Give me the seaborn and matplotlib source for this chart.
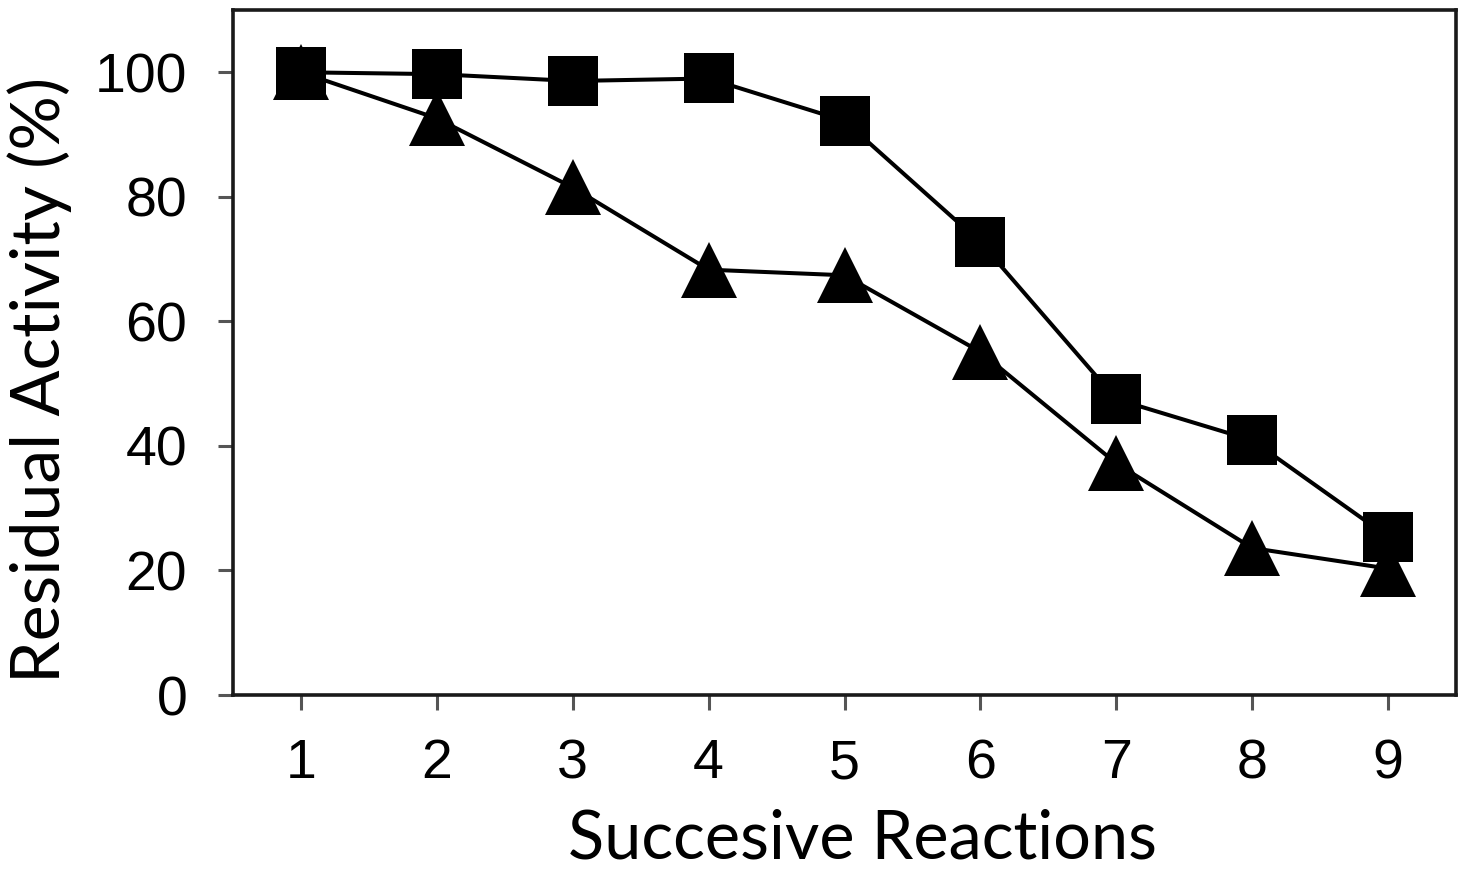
import matplotlib
matplotlib.use("Agg")
import matplotlib.pyplot as plt
import seaborn as sns
import pandas as pd

reactions = [1, 2, 3, 4, 5, 6, 7, 8, 9]
squares = [100, 99.7, 98.6, 99.0, 92.2, 72.7, 47.5, 40.9, 25.4]
triangles = [100, 92.6, 81.5, 68.3, 67.4, 55.1, 37.2, 23.6, 20.3]
y_ticks = [0, 20, 40, 60, 80, 100]

sns.set_theme(style="ticks")
plt.rcParams['font.family'] = ['Liberation Sans', 'DejaVu Sans']
plt.rcParams['text.color'] = 'black'
plt.rcParams['xtick.labelcolor'] = 'black'
plt.rcParams['ytick.labelcolor'] = 'black'
plt.rcParams['axes.labelcolor'] = 'black'

fig = plt.figure(figsize=(14.66, 8.8), dpi=100)
ax = fig.add_axes([233/1466, 1 - 695/880, (1456 - 233)/1466, (695 - 10)/880])

df_t = pd.DataFrame({"x": reactions, "y": triangles})
df_s = pd.DataFrame({"x": reactions, "y": squares})

sns.lineplot(data=df_t, x="x", y="y", ax=ax, color="black", linewidth=2.9,
             marker="^", markersize=41, markeredgewidth=0, zorder=2)
sns.lineplot(data=df_s, x="x", y="y", ax=ax, color="black", linewidth=2.9,
             marker="s", markersize=36, markeredgewidth=0, zorder=3)

ax.set_xlim(0.5, 9.5)
ax.set_ylim(0, 110)
ax.set_xticks(reactions)
ax.set_yticks(y_ticks)
ax.tick_params(axis="both", which="major", labelsize=40, length=11, width=2.2,
               color="#555555", pad=20, direction="out")
ax.tick_params(axis="y", pad=22)
for s in ax.spines.values():
    s.set_linewidth(2.6)
    s.set_color("#1a1a1a")

ax.set_xlabel("Succesive Reactions", fontsize=48, family=["Lato", "DejaVu Sans"])
ax.set_ylabel("Residual Activity (%)", fontsize=49, family=["Lato", "DejaVu Sans"])
ax.xaxis.set_label_coords((863 - 233) / 1223, (695 - 808) / 685)
ax.yaxis.set_label_coords((72 - 233) / 1223, (695 - 380) / 685)

fig.savefig("out.png", dpi=100, facecolor="white")
